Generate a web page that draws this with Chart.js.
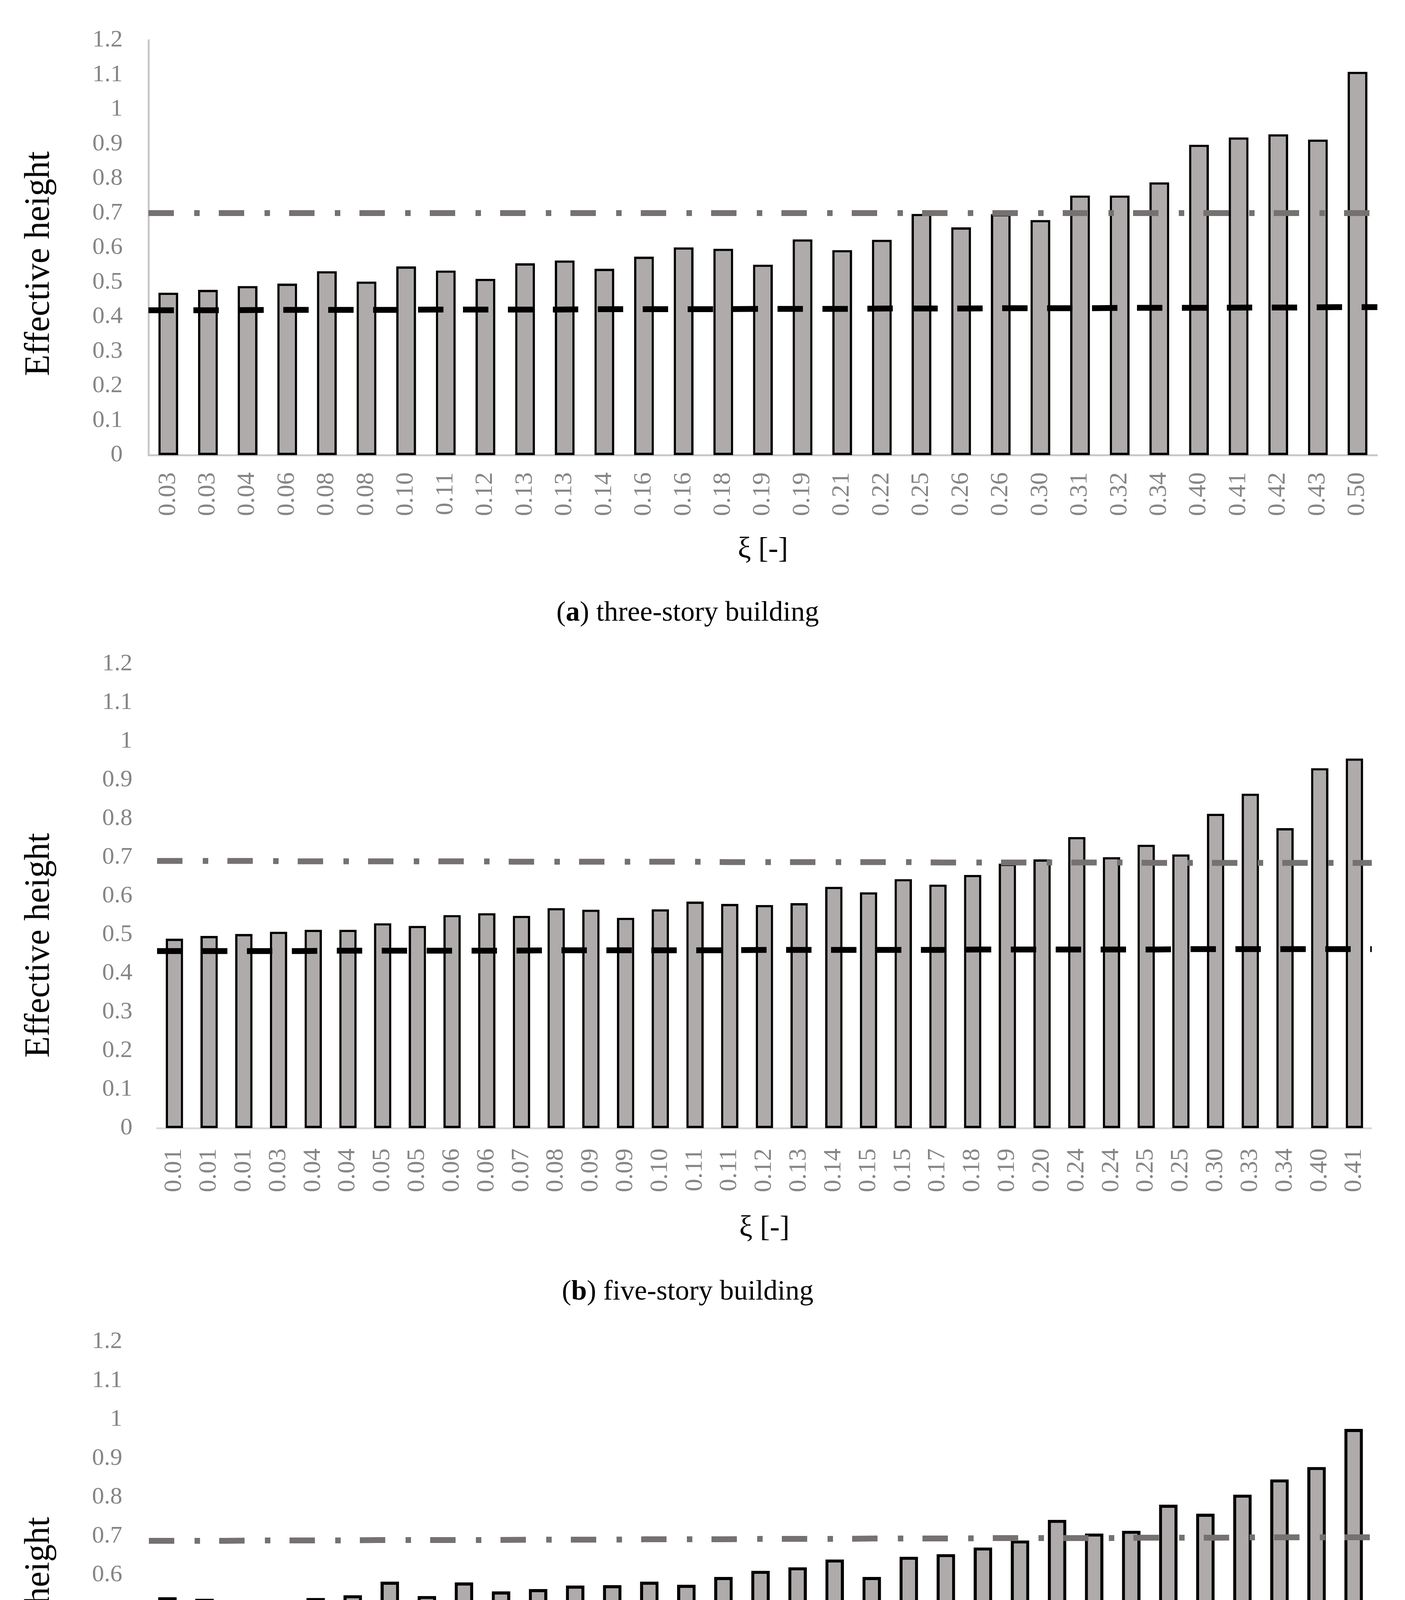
<!DOCTYPE html>
<html>
<head>
<meta charset="utf-8">
<script src="https://cdn.jsdelivr.net/npm/chart.js@4.4.1/dist/chart.umd.min.js"></script>
<style>
  html, body { margin: 0; padding: 0; background: #fff; }
  #page { position: relative; width: 3596px; height: 5211px; overflow: hidden; font-family: 'Liberation Serif', serif; color: #000; }
  canvas { position: absolute; left: 0; }
  .ytitle { position: absolute; white-space: nowrap; font-size: 90px; line-height: 1; transform: translate(-50%, -50%) rotate(-90deg); }
  .caption { position: absolute; left: 1760px; white-space: nowrap; font-size: 72px; line-height: 1; transform: translate(-50%, -50%); }
  .legtext { position: absolute; white-space: nowrap; font-size: 84px; line-height: 1; transform: translateY(-50%); }
  .legline { position: absolute; height: 12px; }
</style>
</head>
<body>
<div id="page">
  <canvas id="chartA" width="3596" height="1480" style="top:0px"></canvas>
  <canvas id="chartB" width="3596" height="1617" style="top:1600px"></canvas>
  <canvas id="chartC" width="3596" height="1623" style="top:3330px"></canvas>

  <div class="ytitle" style="left:95px; top:675px">Effective height</div>
  <div class="ytitle" style="left:95px; top:2420px">Effective height</div>
  <div class="ytitle" style="left:95px; top:4171px">Effective height</div>

  <div class="caption" style="top:1565px">(<b>a</b>) three-story building</div>
  <div class="caption" style="top:3303px">(<b>b</b>) five-story building</div>
  <div class="caption" style="top:5041px">(<b>c</b>) seven-story building</div>

  <div class="legline" style="left:385px; top:5132px; width:441px; background: repeating-linear-gradient(to right, #767171 0 50px, transparent 50px 84px, #767171 84px 100px, transparent 100px 138px);"></div>
  <div class="legtext" style="left:975px; top:5141px">triangular distribution</div>
  <div class="legline" style="left:1795px; top:5132px; width:448px; background: repeating-linear-gradient(to right, #000 0 50px, transparent 50px 71px);"></div>
  <div class="legtext" style="left:2339px; top:5141px">uniform distribution</div>
</div>

<script>
// y axis tick labels (same for all three panels)
const yTickLabels = ['0', '0.1', '0.2', '0.3', '0.4', '0.5', '0.6', '0.7', '0.8', '0.9', '1', '1.1', '1.2']

// (a) three-story building
const catsA = ['0.03', '0.03', '0.04', '0.06', '0.08', '0.08', '0.10', '0.11', '0.12', '0.13', '0.13', '0.14', '0.16', '0.16', '0.18', '0.19',
  '0.19', '0.21', '0.22', '0.25', '0.26', '0.26', '0.30', '0.31', '0.32', '0.34', '0.40', '0.41', '0.42', '0.43', '0.50']
const heightA = [0.470, 0.478, 0.489, 0.496, 0.532, 0.502, 0.546, 0.534, 0.510, 0.555, 0.563, 0.539, 0.574, 0.601, 0.597, 0.551,
  0.624, 0.593, 0.623, 0.698, 0.659, 0.697, 0.680, 0.751, 0.751, 0.789, 0.898, 0.919, 0.928, 0.913, 1.109]
const triA = [0.700, 0.700, 0.700, 0.700, 0.700, 0.700, 0.700, 0.700, 0.700, 0.700, 0.700, 0.700, 0.700, 0.700, 0.700, 0.700,
  0.700, 0.700, 0.700, 0.700, 0.700, 0.700, 0.700, 0.700, 0.700, 0.700, 0.700, 0.700, 0.700, 0.700, 0.700]
const uniA = [0.419, 0.419, 0.419, 0.420, 0.420, 0.420, 0.420, 0.421, 0.421, 0.421, 0.421, 0.422, 0.422, 0.422, 0.422, 0.423,
  0.423, 0.423, 0.424, 0.424, 0.424, 0.425, 0.425, 0.425, 0.426, 0.426, 0.426, 0.427, 0.427, 0.428, 0.428]

// (b) five-story building
const catsB = ['0.01', '0.01', '0.01', '0.03', '0.04', '0.04', '0.05', '0.05', '0.06', '0.06', '0.07', '0.08', '0.09', '0.09', '0.10', '0.11',
  '0.11', '0.12', '0.13', '0.14', '0.15', '0.15', '0.17', '0.18', '0.19', '0.20', '0.24', '0.24', '0.25', '0.25', '0.30', '0.33',
  '0.34', '0.40', '0.41']
const heightB = [0.490, 0.497, 0.502, 0.508, 0.513, 0.513, 0.530, 0.523, 0.551, 0.556, 0.549, 0.569, 0.565, 0.544, 0.566, 0.586,
  0.580, 0.577, 0.582, 0.624, 0.610, 0.644, 0.630, 0.655, 0.684, 0.695, 0.753, 0.701, 0.733, 0.708, 0.813, 0.865,
  0.776, 0.931, 0.956]
const triB = [0.691, 0.691, 0.691, 0.691, 0.690, 0.690, 0.690, 0.690, 0.690, 0.690, 0.689, 0.689, 0.689, 0.689, 0.689, 0.689,
  0.688, 0.688, 0.688, 0.688, 0.688, 0.688, 0.687, 0.687, 0.687, 0.687, 0.687, 0.687, 0.686, 0.686, 0.686, 0.686,
  0.686, 0.686, 0.686]
const uniB = [0.458, 0.458, 0.458, 0.458, 0.458, 0.459, 0.459, 0.459, 0.459, 0.459, 0.459, 0.460, 0.460, 0.460, 0.460, 0.460,
  0.460, 0.461, 0.461, 0.461, 0.461, 0.461, 0.461, 0.462, 0.462, 0.462, 0.462, 0.462, 0.462, 0.463, 0.463, 0.463,
  0.463, 0.463, 0.463]

// (c) seven-story building
const catsC = ['0.01', '0.02', '0.02', '0.02', '0.02', '0.03', '0.04', '0.04', '0.05', '0.05', '0.06', '0.06', '0.07', '0.07', '0.07', '0.08',
  '0.09', '0.10', '0.10', '0.11', '0.12', '0.13', '0.14', '0.16', '0.16', '0.17', '0.17', '0.20', '0.23', '0.23', '0.27', '0.28',
  '0.38']
const heightC = [0.543, 0.539, 0.531, 0.532, 0.541, 0.548, 0.583, 0.546, 0.581, 0.558, 0.564, 0.573, 0.574, 0.583, 0.575, 0.595,
  0.611, 0.620, 0.640, 0.595, 0.647, 0.654, 0.671, 0.689, 0.742, 0.707, 0.714, 0.781, 0.758, 0.807, 0.846, 0.878,
  0.976]
const triC = [0.688, 0.688, 0.688, 0.689, 0.689, 0.689, 0.690, 0.690, 0.690, 0.690, 0.691, 0.691, 0.691, 0.692, 0.692, 0.692,
  0.693, 0.693, 0.693, 0.694, 0.694, 0.694, 0.695, 0.695, 0.695, 0.695, 0.696, 0.696, 0.696, 0.697, 0.697, 0.697,
  0.697]
const uniC = [0.459, 0.459, 0.459, 0.459, 0.459, 0.459, 0.459, 0.459, 0.459, 0.459, 0.459, 0.459, 0.459, 0.459, 0.459, 0.459,
  0.459, 0.459, 0.459, 0.459, 0.459, 0.459, 0.459, 0.459, 0.459, 0.459, 0.459, 0.459, 0.459, 0.459, 0.459, 0.459,
  0.459]

const FONT = "'Liberation Serif', serif"
const BAR_FILL = '#AFABAB'
const TRI_COLOR = '#767171'

Chart.defaults.font.family = FONT

const makePanel = (id, labels, heights, tri, uni, opt) => {
  const ctx = document.getElementById(id).getContext('2d')
  return new Chart(ctx, {
    type: 'bar',
    data: {
      labels,
      datasets: [
        {
          type: 'line',
          label: 'triangular distribution',
          data: tri,
          xAxisID: 'x2', // lines run edge to edge like the Excel secondary axis
          borderColor: TRI_COLOR,
          borderWidth: 15,
          borderDash: [65, 52, 14, 49],
          pointRadius: 0,
          order: 1
        },
        {
          type: 'line',
          label: 'uniform distribution',
          data: uni,
          xAxisID: 'x2',
          borderColor: '#000',
          borderWidth: 15,
          borderDash: [65, 50],
          pointRadius: 0,
          order: 0
        },
        {
          type: 'bar',
          label: 'Effective height',
          data: heights,
          backgroundColor: BAR_FILL,
          borderColor: '#000',
          borderWidth: opt.barBorder,
          borderSkipped: false,
          grouped: false,
          barPercentage: 0.5,
          categoryPercentage: 1,
          order: 2
        }
      ]
    },
    options: {
      responsive: false,
      animation: false,
      devicePixelRatio: 1,
      layout: { padding: { left: 0, top: opt.padTop, right: 44, bottom: 0 } },
      plugins: { legend: { display: false }, tooltip: { enabled: false } },
      scales: {
        x: {
          type: 'category',
          offset: true,
          grid: { display: false, drawTicks: false },
          border: { display: true, color: opt.axisColor, width: 5 },
          ticks: {
            color: '#858585',
            font: { size: 64 },
            autoSkip: false,
            minRotation: 90,
            maxRotation: 90,
            padding: opt.xTickPad
          },
          title: {
            display: true,
            text: 'ξ [-]',
            color: '#000',
            font: { size: 76 },
            padding: { top: 0, bottom: 26 }
          },
          afterFit: (scale) => { scale.height = opt.xHeight }
        },
        x2: {
          type: 'category',
          labels,
          offset: false,
          display: false
        },
        y: {
          min: 0,
          max: 1.2,
          grid: { display: false, drawTicks: false },
          border: { display: opt.yBorder, color: opt.axisColor, width: 5 },
          ticks: {
            stepSize: 0.1,
            color: '#858585',
            font: { size: 62 },
            padding: opt.yTickPad,
            callback: (v, i) => yTickLabels[i]
          },
          afterFit: (scale) => { scale.width = opt.plotLeft }
        }
      }
    }
  })
}

makePanel('chartA', catsA, heightA, triA, uniA, {
  padTop: 63, xHeight: 315, plotLeft: 380, xTickPad: 44, yTickPad: 66,
  barBorder: 6, yBorder: true, axisColor: '#C8C8C8'
})
makePanel('chartB', catsB, heightB, triB, uniB, {
  padTop: 99, xHeight: 329, plotLeft: 402, xTickPad: 52, yTickPad: 63,
  barBorder: 6, yBorder: false, axisColor: '#D9D9D9'
})
makePanel('chartC', catsC, heightC, triC, uniC, {
  padTop: 101, xHeight: 324, plotLeft: 381, xTickPad: 54, yTickPad: 68,
  barBorder: 8, yBorder: false, axisColor: '#D9D9D9'
})
</script>
</body>
</html>
